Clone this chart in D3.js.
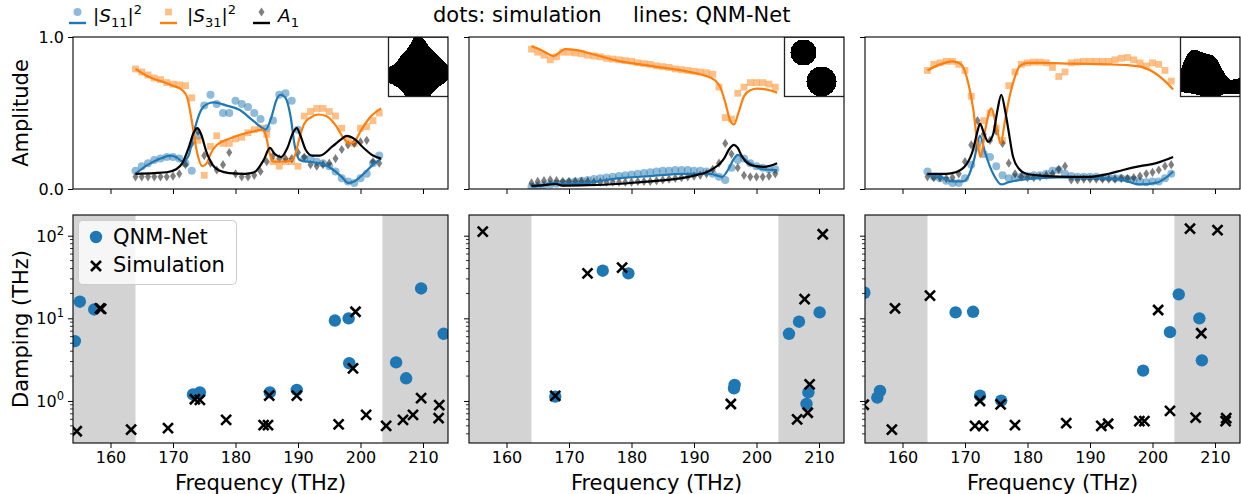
<!DOCTYPE html>
<html>
<head>
<meta charset="utf-8">
<script src="https://cdn.jsdelivr.net/npm/d3@7"></script>
<style>
  body { margin: 0; background: #fff; }
  svg { display: block; }
  text { font-family: "DejaVu Sans", sans-serif; fill: #000; }
</style>
</head>
<body>
<svg id="chart" width="1241" height="494"></svg>
<script>
// ---- data ----
const simFreq = [164,165,166,167,168,169,170,171,172,173,174,175,176,177,178,179,180,181,182,183,
                 184,185,186,187,188,189,190,191,192,193,194,195,196,197,198,199,200,201,202,203];

// left panel (simulation dots)
const s11SimA = [.12,.15,.17,.19,.20,.21,.21,.20,.17,.12,.35,.55,.62,.56,.50,.50,.58,.56,.54,.50,
                 .46,.40,.45,.62,.63,.58,.39,.20,.20,.18,.17,.15,.115,.07,.05,.04,.07,.10,.17,.22];
const s31SimA = [.79,.77,.75,.73,.72,.70,.69,.685,.68,.60,.32,.09,.28,.35,.30,.30,.33,.34,.37,.39,
                 .40,.36,.18,.15,.18,.18,.15,.48,.51,.53,.53,.51,.48,.40,.32,.30,.40,.41,.45,.50];
const a1SimA  = [.08,.08,.08,.08,.08,.08,.085,.10,.16,.30,.38,.22,.17,.125,.16,.24,.10,.08,.08,.09,
                 .115,.18,.22,.20,.20,.20,.24,.21,.16,.15,.16,.17,.20,.26,.29,.30,.31,.32,.18,.17];
// middle panel
const s11SimB = [.015,.02,.025,.03,.035,.04,.045,.05,.055,.06,.065,.07,.075,.08,.085,.09,.095,.10,.105,.11,
                 .115,.12,.12,.125,.125,.125,.12,.12,.115,.10,.08,.06,.14,.19,.20,.17,.15,.14,.13,.13];
const s31SimB = [.92,.90,.88,.85,.87,.90,.90,.895,.89,.88,.875,.87,.86,.855,.85,.845,.84,.83,.825,.82,
                 .81,.805,.80,.79,.785,.78,.775,.77,.765,.755,.67,.47,.46,.63,.67,.70,.70,.70,.69,.67];
const a1SimB  = [.04,.05,.055,.06,.055,.05,.05,.05,.05,.05,.045,.045,.045,.045,.045,.045,.045,.05,.05,.05,
                 .055,.06,.065,.07,.075,.08,.085,.09,.10,.13,.17,.30,.23,.14,.09,.08,.08,.08,.085,.10];
// right panel
const s11SimC = [.115,.08,.07,.055,.04,.04,.07,.16,.30,.23,.21,.15,.09,.07,.075,.08,.085,.09,.09,.10,
                 .12,.125,.10,.085,.08,.08,.08,.08,.075,.075,.07,.07,.065,.06,.05,.045,.05,.05,.07,.10];
const s31SimC = [.78,.82,.83,.84,.84,.82,.78,.61,.27,.45,.50,.40,.32,.68,.77,.82,.83,.835,.835,.83,
                 .80,.74,.77,.83,.835,.84,.84,.84,.84,.84,.85,.86,.865,.85,.83,.81,.83,.82,.78,.71];
const a1SimC  = [.08,.075,.075,.07,.075,.10,.18,.29,.45,.36,.32,.38,.30,.17,.10,.08,.075,.075,.08,.09,
                 .10,.13,.15,.06,.06,.065,.065,.065,.065,.065,.065,.07,.07,.075,.085,.10,.11,.125,.15,.16];

// QNM-Net curves [freq, amplitude]
const s11LineA = [[164,.10],[166,.16],[168,.20],[169.5,.22],[170.5,.21],[171.6,.18],[172.5,.22],[173.5,.40],
  [174.5,.52],[175.5,.56],[176.5,.57],[178.5,.55],[180.7,.52],[182.5,.46],[184,.41],[184.8,.39],[185.8,.48],
  [186.5,.58],[187.2,.62],[188,.60],[188.8,.48],[189.5,.28],[190.3,.19],[191.5,.18],[193.5,.17],[195.5,.13],
  [197,.08],[198,.04],[199,.05],[200.5,.10],[202,.16],[203.3,.20]];
const s31LineA = [[164,.79],[166,.74],[168,.71],[170,.68],[171.5,.65],[172.3,.60],[173,.45],[173.8,.25],
  [174.7,.15],[175.4,.17],[176,.23],[177,.29],[179,.33],[181,.36],[183,.38],[184.2,.39],[184.8,.36],[185.5,.23],
  [186,.18],[187,.18],[188,.18],[189,.19],[189.5,.22],[190.2,.33],[191,.43],[192,.47],[193.3,.49],[194.5,.48],
  [196,.42],[197.2,.34],[198.2,.30],[199,.31],[200,.38],[201.5,.47],[203.3,.53]];
const a1LineA = [[164,.10],[167,.105],[169,.11],[170.5,.13],[171.5,.17],[172.5,.27],[173.3,.37],[173.9,.40],
  [174.5,.36],[175.3,.25],[176.3,.16],[177.5,.12],[179,.105],[181.5,.10],[183,.11],[184.5,.19],[185.5,.27],
  [186.3,.23],[187.3,.21],[188.3,.27],[189.2,.37],[189.8,.40],[190.4,.35],[191.2,.26],[192.3,.22],[193.5,.22],
  [195.5,.28],[197,.33],[197.8,.35],[199,.33],[200.5,.27],[202,.22],[203.3,.20]];

const s11LineB = [[164,.015],[166,.025],[167.5,.04],[168.7,.03],[172,.035],[177.7,.07],[183,.085],[188.4,.10],
  [192.6,.10],[194.5,.08],[195.5,.13],[196.4,.20],[197,.225],[198,.20],[199,.17],[201,.13],[203.3,.125]];
const s31LineB = [[164,.94],[165.5,.915],[167.6,.875],[168.5,.90],[169.4,.92],[171,.915],[174,.885],[177.7,.845],
  [183,.81],[188.4,.777],[191,.755],[192.6,.733],[193.5,.71],[194.2,.67],[195,.57],[195.8,.45],[196.4,.424],
  [197.1,.50],[198,.61],[199,.65],[200.1,.66],[201.5,.655],[203.3,.634]];
const a1LineB = [[164,.02],[166,.025],[167.8,.033],[169,.022],[173,.025],[177.7,.033],[181.5,.045],[185.7,.06],
  [188.5,.075],[190.5,.093],[192,.11],[193.2,.137],[194.2,.17],[194.8,.20],[195.6,.26],[196.4,.29],[197,.27],
  [197.6,.22],[198.3,.18],[199,.16],[200,.15],[201.2,.145],[202.3,.155],[203.3,.17]];

const s11LineC = [[164,.09],[166,.08],[168,.05],[169.7,.05],[170.5,.08],[171.5,.20],[172.4,.35],[173.2,.24],
  [174.5,.10],[175.8,.03],[177,.045],[180,.065],[185,.077],[190,.075],[195,.062],[197.9,.03],[200.5,.04],
  [202,.07],[203.3,.115]];
const s31LineC = [[164,.78],[166,.82],[168,.84],[169.4,.82],[170.5,.70],[171.3,.53],[172,.30],[172.5,.21],
  [173.2,.38],[174.2,.53],[175,.42],[175.7,.30],[176.4,.45],[177.2,.62],[178,.74],[178.8,.81],[180,.83],
  [182,.83],[187,.825],[192.6,.82],[196,.815],[198.5,.80],[200.5,.76],[202,.71],[203.3,.655]];
const a1LineC = [[164,.10],[167,.10],[168.5,.11],[170.2,.16],[171.3,.26],[172,.38],[172.4,.43],[173,.37],
  [173.7,.31],[174.5,.36],[175.2,.52],[175.8,.62],[176.4,.52],[176.9,.40],[177.7,.21],[178.7,.13],[179.8,.10],
  [183,.085],[187,.08],[190,.08],[193,.10],[195.3,.125],[198,.15],[200.6,.17],[203.3,.21]];

// damping [freq, THz]
const qnmA = [[154.3,5.3],[155.1,15.9],[157.4,12.8],[173.2,1.2],[174.3,1.27],[185.5,1.27],[189.8,1.36],
  [195.9,9.4],[198.1,10],[198.2,2.86],[205.7,2.93],[207.3,1.88],[209.7,23],[213.3,6.5]];
const simA = [[154.6,.43],[158.3,13.2],[158.5,13.0],[163.3,.45],[169.2,.47],[173.5,1.05],[174.3,1.03],
  [178.5,.59],[184.5,.51],[185.2,.51],[185.4,1.16],[189.8,1.16],[196.5,.52],[199.2,12.0],[198.8,2.48],
  [200.9,.68],[204.1,.50],[206.8,.59],[208.4,.68],[209.7,1.08],[212.6,.89],[212.5,.62]];
const qnmB = [[167.8,1.13],[175.4,37.7],[179.5,35],[196.5,1.56],[196.4,1.42],[205.2,6.5],[206.8,9.1],
  [208.3,1.27],[208.0,.92],[210.1,11.8]];
const simB = [[156.2,112],[167.8,1.15],[172.96,35],[178.5,41],[195.9,.92],[206.5,.60],[207.7,17.1],
  [208.5,1.59],[208.2,.72],[210.6,104]];
const qnmC = [[153.9,20.4],[155.97,1.1],[156.4,1.32],[168.5,11.8],[171.3,12],[172.4,1.16],[175.8,1.01],
  [198.5,2.33],[202.8,6.8],[204.2,19.5],[207.5,10],[207.9,3.1]];
const simC = [[153.8,.9],[158.3,.45],[158.8,13.2],[164.4,18.8],[171.6,.50],[172.9,.50],[172.4,1.0],
  [175.7,.91],[178,.51],[186.2,.54],[191.8,.50],[192.9,.53],[197.9,.57],[198.7,.57],[200.9,12.6],[202.8,.76],
  [206,122],[206.9,.63],[207.8,6.6],[210.4,117],[211.7,.57],[211.8,.62]];

// shaded (out of training range) bands
const bands = [[154, 164], [203.5, 214]];
const xTicks = [160, 170, 180, 190, 200, 210];
const ampTicks = [0, 1];
const dampTicks = [1, 10, 100];

// geometry inset shapes (0..60 units)
const shapeA = [[26,0],[34,0],[38,5],[43,12],[48,17],[54,23],[60,29],[60,42],[55,47],[49,51],[45,55],[42,60],
  [18,60],[15,55],[9,50],[4,47],[0,46],[0,31],[5,28],[10,23],[14,17],[19,12],[23,6]];
const shapeB = [[19.5,15.5,13], [37.5,44.5,15]];
const shapeC = [[1,33],[4,24],[8,16],[12,13],[17,13],[24,16],[32,18],[37,22],[41,30],[45,37],[50,43],[55,42],
  [60,41],[60,57],[44,57],[38,60],[27,60],[14,57],[1,55]];

// ---- layout ----
const svg = d3.select('#chart');
const panelLeft = [73, 469, 865];
const panelW = 375;
const topY = [37, 189];
const botY = [215, 443];
const freqDomain = [154, 214];
const blue = '#1f77b4', orange = '#ff7f0e';

const panels = [
  { s11: s11SimA, s31: s31SimA, a1: a1SimA, l11: s11LineA, l31: s31LineA, la: a1LineA, qnm: qnmA, sim: simA, poly: shapeA },
  { s11: s11SimB, s31: s31SimB, a1: a1SimB, l11: s11LineB, l31: s31LineB, la: a1LineB, qnm: qnmB, sim: simB, circles: shapeB },
  { s11: s11SimC, s31: s31SimC, a1: a1SimC, l11: s11LineC, l31: s31LineC, la: a1LineC, qnm: qnmC, sim: simC, poly: shapeC }
];

const defs = svg.append('defs');

function styleAxis(g) {
  g.select('.domain').remove();
  g.selectAll('.tick line').attr('stroke', '#000').attr('stroke-width', 1);
  g.selectAll('.tick text').attr('font-size', 16).attr('font-family', '"DejaVu Sans", sans-serif').attr('fill', '#000');
}

function clipFor(id, x0, y0, w, h) {
  defs.append('clipPath').attr('id', id).append('rect').attr('x', x0).attr('y', y0).attr('width', w).attr('height', h);
  return `url(#${id})`;
}

function drawTop(i, p) {
  const x0 = panelLeft[i];
  const x = d3.scaleLinear().domain(freqDomain).range([x0, x0 + panelW]);
  const y = d3.scaleLinear().domain([0, 1]).range([topY[1], topY[0]]);
  const g = svg.append('g').attr('clip-path', clipFor('ct' + i, x0, topY[0], panelW, topY[1] - topY[0]));

  // simulation dots
  g.selectAll(null).data(p.s11).enter().append('circle')
    .attr('cx', (d, k) => x(simFreq[k])).attr('cy', d => y(d)).attr('r', 4)
    .attr('fill', blue).attr('fill-opacity', 0.5);
  g.selectAll(null).data(p.s31).enter().append('rect')
    .attr('x', (d, k) => x(simFreq[k]) - 3.4).attr('y', d => y(d) - 3.4)
    .attr('width', 6.8).attr('height', 6.8)
    .attr('fill', orange).attr('fill-opacity', 0.5);
  g.selectAll(null).data(p.a1).enter().append('path')
    .attr('transform', (d, k) => `translate(${x(simFreq[k])},${y(d)})`)
    .attr('d', 'M0,-4.6L3,0L0,4.6L-3,0Z')
    .attr('fill', '#000').attr('fill-opacity', 0.5);

  // QNM-Net lines
  const line = d3.line().x(d => x(d[0])).y(d => y(d[1])).curve(d3.curveMonotoneX);
  [[p.l11, blue], [p.l31, orange], [p.la, '#000']].forEach(([data, col]) => {
    g.append('path').datum(data).attr('d', line)
      .attr('fill', 'none').attr('stroke', col).attr('stroke-width', 2.2);
  });

  // geometry inset
  const ix = x0 + panelW - 60, iy = topY[0];
  const sx = d3.scaleLinear().domain([0, 60]).range([ix, ix + 60]);
  const sy = d3.scaleLinear().domain([0, 60]).range([iy, iy + 60]);
  g.append('rect').attr('x', ix).attr('y', iy).attr('width', 60).attr('height', 60)
    .attr('fill', '#fff');
  if (p.poly) {
    g.append('path').datum(p.poly)
      .attr('d', d3.line().x(d => sx(d[0])).y(d => sy(d[1])).curve(d3.curveLinearClosed))
      .attr('fill', '#000').attr('shape-rendering', 'crispEdges');
  }
  if (p.circles) {
    g.selectAll(null).data(p.circles).enter().append('circle')
      .attr('cx', d => sx(d[0])).attr('cy', d => sy(d[1])).attr('r', d => d[2])
      .attr('fill', '#000').attr('shape-rendering', 'crispEdges');
  }
  g.append('rect').attr('x', ix + 0.5).attr('y', iy).attr('width', 60).attr('height', 59.5)
    .attr('fill', 'none').attr('stroke', '#222').attr('stroke-width', 1.3);

  // axes
  svg.append('g').attr('transform', `translate(0,${topY[1]})`)
    .call(d3.axisBottom(x).tickValues(xTicks).tickSize(5).tickFormat(''))
    .call(styleAxis);
  const ya = svg.append('g').attr('transform', `translate(${x0},0)`)
    .call(d3.axisLeft(y).tickValues(ampTicks).tickSize(5).tickPadding(4)
      .tickFormat(i === 0 ? d3.format('.1f') : ''))
    .call(styleAxis);
  ya.selectAll('.tick text').attr('dy', '0.36em');

  svg.append('rect').attr('x', x0).attr('y', topY[0]).attr('width', panelW).attr('height', topY[1] - topY[0])
    .attr('fill', 'none').attr('stroke', '#000').attr('stroke-width', 1.1);
}

function drawBottom(i, p) {
  const x0 = panelLeft[i];
  const x = d3.scaleLinear().domain(freqDomain).range([x0, x0 + panelW]);
  const y = d3.scaleLog().domain([0.31, 178]).range([botY[1], botY[0]]);
  const g = svg.append('g').attr('clip-path', clipFor('cb' + i, x0, botY[0], panelW, botY[1] - botY[0]));

  g.selectAll(null).data(bands).enter().append('rect')
    .attr('x', d => x(d[0])).attr('width', d => x(d[1]) - x(d[0]))
    .attr('y', botY[0]).attr('height', botY[1] - botY[0]).attr('fill', '#d3d3d3');

  g.selectAll(null).data(p.qnm).enter().append('circle')
    .attr('cx', d => x(d[0])).attr('cy', d => y(d[1])).attr('r', 6.2).attr('fill', blue);
  g.selectAll(null).data(p.sim).enter().append('path')
    .attr('transform', d => `translate(${x(d[0])},${y(d[1])})`)
    .attr('d', 'M-5,-5L5,5M-5,5L5,-5')
    .attr('stroke', '#000').attr('stroke-width', 2.6).attr('fill', 'none');

  svg.append('g').attr('transform', `translate(0,${botY[1]})`)
    .call(d3.axisBottom(x).tickValues(xTicks).tickSize(5).tickPadding(4).tickFormat(d3.format('d')))
    .call(styleAxis);

  // log y axis: major + minor ticks
  const minor = y.ticks().filter(v => !dampTicks.includes(v));
  const ya = svg.append('g').attr('transform', `translate(${x0},0)`);
  ya.call(d3.axisLeft(y).tickValues(dampTicks).tickSize(5).tickFormat('')).call(styleAxis);
  ya.selectAll(null).data(minor).enter().append('line')
    .attr('x1', -3).attr('x2', 0).attr('y1', d => y(d)).attr('y2', d => y(d))
    .attr('stroke', '#000').attr('stroke-width', 0.8);
  if (i === 0) {
    dampTicks.forEach(v => {
      const t = ya.append('text').attr('x', -9).attr('y', y(v) + 6)
        .attr('text-anchor', 'end').attr('font-size', 16);
      t.append('tspan').text('10');
      t.append('tspan').attr('dy', -7).attr('font-size', 11.5).text(String(Math.round(Math.log10(v))));
    });
  }

  svg.append('rect').attr('x', x0).attr('y', botY[0]).attr('width', panelW).attr('height', botY[1] - botY[0])
    .attr('fill', 'none').attr('stroke', '#000').attr('stroke-width', 1.1);

  svg.append('text').attr('x', x0 + panelW / 2).attr('y', 490).attr('text-anchor', 'middle')
    .attr('font-size', 21).text('Frequency (THz)');
}

panels.forEach((p, i) => { drawTop(i, p); drawBottom(i, p); });

// y labels
svg.append('text').attr('transform', `translate(28,${(topY[0] + topY[1]) / 2}) rotate(-90)`)
  .attr('text-anchor', 'middle').attr('font-size', 21).text('Amplitude');
svg.append('text').attr('transform', `translate(28,${(botY[0] + botY[1]) / 2}) rotate(-90)`)
  .attr('text-anchor', 'middle').attr('font-size', 21).text('Damping (THz)');

// ---- top legend ----
function mathText(x, y, parts) {
  const t = svg.append('text').attr('x', x).attr('y', y).attr('font-size', 18.5);
  let shift = 0;
  parts.forEach(pt => {
    const target = pt.sub ? 4.5 : pt.sup ? -8 : 0;
    const s = t.append('tspan').text(pt.t).attr('dy', target - shift);
    shift = target;
    if (pt.i) s.attr('font-style', 'italic');
    if (pt.sub || pt.sup) s.attr('font-size', 13);
  });
}
const legendY = 23;
[[69, blue, 'c'], [160, orange, 's'], [253, '#000', 'd']].forEach(([lx, col, m]) => {
  svg.append('line').attr('x1', lx).attr('x2', lx + 17).attr('y1', legendY).attr('y2', legendY)
    .attr('stroke', col).attr('stroke-width', 2.4);
  const cx = lx + 8.5, cy = 12;
  if (m === 'c') svg.append('circle').attr('cx', cx).attr('cy', cy).attr('r', 4).attr('fill', col).attr('fill-opacity', 0.5);
  if (m === 's') svg.append('rect').attr('x', cx - 3.4).attr('y', cy - 3.4).attr('width', 6.8).attr('height', 6.8)
    .attr('fill', col).attr('fill-opacity', 0.5);
  if (m === 'd') svg.append('path').attr('transform', `translate(${cx},${cy})`).attr('d', 'M0,-4.6L3,0L0,4.6L-3,0Z')
    .attr('fill', col).attr('fill-opacity', 0.5);
});
mathText(93, 22, [{ t: '|' }, { t: 'S', i: true }, { t: '11', sub: true }, { t: '|' }, { t: '2', sup: true }]);
mathText(187, 22, [{ t: '|' }, { t: 'S', i: true }, { t: '31', sub: true }, { t: '|' }, { t: '2', sup: true }]);
mathText(278, 22, [{ t: 'A', i: true }, { t: '1', sub: true }]);
svg.append('text').attr('x', 433).attr('y', 22).attr('font-size', 21).text('dots: simulation');
svg.append('text').attr('x', 633).attr('y', 22).attr('font-size', 21).text('lines: QNM-Net');

// ---- bottom legend ----
const lg = svg.append('g');
lg.append('rect').attr('x', 78.5).attr('y', 220.5).attr('width', 158).attr('height', 64).attr('rx', 4)
  .attr('fill', '#fff').attr('fill-opacity', 0.8).attr('stroke', '#ccc').attr('stroke-width', 1);
lg.append('circle').attr('cx', 96).attr('cy', 237).attr('r', 6.2).attr('fill', blue);
lg.append('path').attr('transform', 'translate(96,266)').attr('d', 'M-5,-5L5,5M-5,5L5,-5')
  .attr('stroke', '#000').attr('stroke-width', 2.6);
lg.append('text').attr('x', 113).attr('y', 244).attr('font-size', 21).text('QNM-Net');
lg.append('text').attr('x', 113).attr('y', 272).attr('font-size', 21).text('Simulation');
</script>
</body>
</html>
